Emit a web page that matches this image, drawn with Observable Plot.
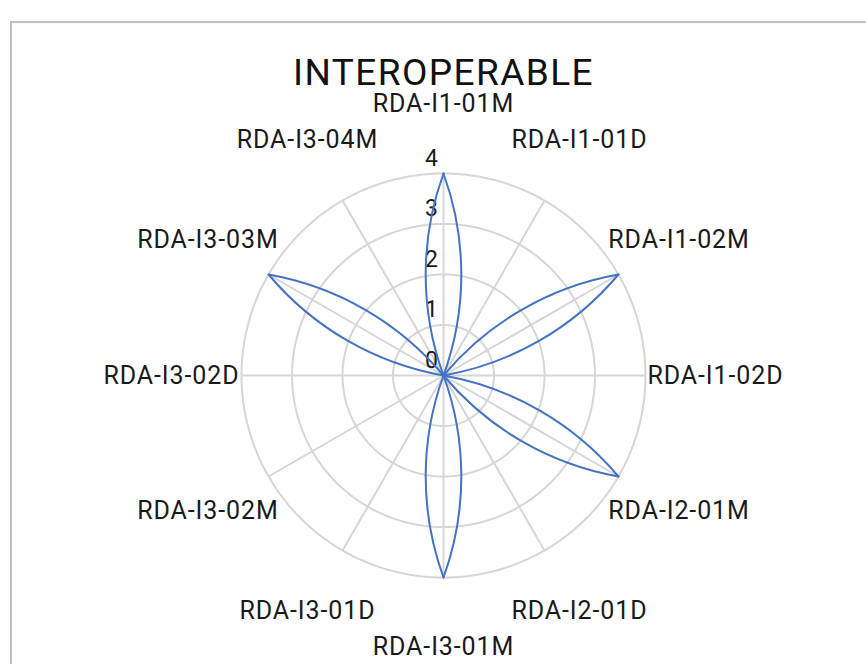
<!DOCTYPE html>
<html>
<head>
<meta charset="utf-8">
<script src="https://cdn.jsdelivr.net/npm/d3@7"></script>
<script src="https://cdn.jsdelivr.net/npm/@observablehq/plot@0.6"></script>
<style>
  html, body { margin: 0; padding: 0; background: #fff; overflow: hidden; }
  #wrap { position: relative; width: 866px; height: 664px; }
  #frame { position: absolute; left: 10px; top: 21px; width: 900px; height: 700px;
           border: 2px solid #c0c0c0; box-sizing: border-box; pointer-events: none; }
  #chart { position: absolute; left: 0; top: 0; }
  .cat-label text { letter-spacing: 0.9px; }
  .chart-title text { letter-spacing: 1.4px; }
</style>
</head>
<body>
<div id="wrap"><div id="chart"></div><div id="frame"></div></div>
<script>
const title = "INTEROPERABLE";
const categories = ["RDA-I1-01M","RDA-I1-01D","RDA-I1-02M","RDA-I1-02D","RDA-I2-01M","RDA-I2-01D",
                    "RDA-I3-01M","RDA-I3-01D","RDA-I3-02M","RDA-I3-02D","RDA-I3-03M","RDA-I3-04M"];
const values = [4, 0, 4, 0, 4, 0, 4, 0, 0, 0, 4, 0];
const ticks = [0, 1, 2, 3, 4];

const W = 866, H = 664, cx = 443, cy = 375, unit = 50.5;
const maxR = d3.max(ticks);
const labelR = 5.386;
const n = categories.length;
const ang = i => i * 2 * Math.PI / n;

const pts = categories.map((c, i) => ({c, v: values[i], x: values[i] * Math.sin(ang(i)), y: values[i] * Math.cos(ang(i))}));
const segs = pts.map((p, i) => {
  const q = pts[(i + 1) % n];
  return {x1: p.x, y1: p.y, x2: q.x, y2: q.y, v1: p.v, v2: q.v};
});
const ringPts = [];
for (const t of ticks.filter(t => t > 0)) {
  for (const a of d3.range(0, 361, 2)) {
    const r = a * Math.PI / 180;
    ringPts.push({ring: t, x: t * Math.sin(r), y: t * Math.cos(r)});
  }
}

const chart = Plot.plot({
  width: W, height: H,
  margin: 0,
  style: {fontFamily: "Roboto", background: "transparent"},
  x: {domain: [-cx / unit, (W - cx) / unit], axis: null},
  y: {domain: [-(H - cy) / unit, cy / unit], axis: null},
  marks: [
    Plot.line(ringPts, {x: "x", y: "y", z: "ring", stroke: "#d6d6d6", strokeWidth: 2}),
    Plot.link(categories, {x1: () => 0, y1: () => 0,
      x2: (d, i) => maxR * Math.sin(ang(i)), y2: (d, i) => maxR * Math.cos(ang(i)),
      stroke: "#d6d6d6", strokeWidth: 2}),
    Plot.text(ticks, {x: () => 0, y: d => d, text: d => String(d), dx: -12, dy: -15,
      fontSize: 23, fill: "#1a1a1a"}),
    Plot.arrow(segs, {x1: "x1", y1: "y1", x2: "x2", y2: "y2", bend: 20, headLength: 0,
      filter: d => d.v1 !== 0 || d.v2 !== 0,
      stroke: "#4472C4", strokeWidth: 2}),
    Plot.text(categories, {x: (d, i) => labelR * Math.sin(ang(i)), y: (d, i) => labelR * Math.cos(ang(i)),
      text: d => d, fontSize: 25, fill: "#1a1a1a", className: "cat-label"}),
    Plot.text([title], {x: () => 0, frameAnchor: "top", dy: 73, lineAnchor: "middle",
      text: d => d, fontSize: 37, fill: "#111", className: "chart-title"})
  ]
});
document.getElementById("chart").appendChild(chart);
</script>
</body>
</html>
